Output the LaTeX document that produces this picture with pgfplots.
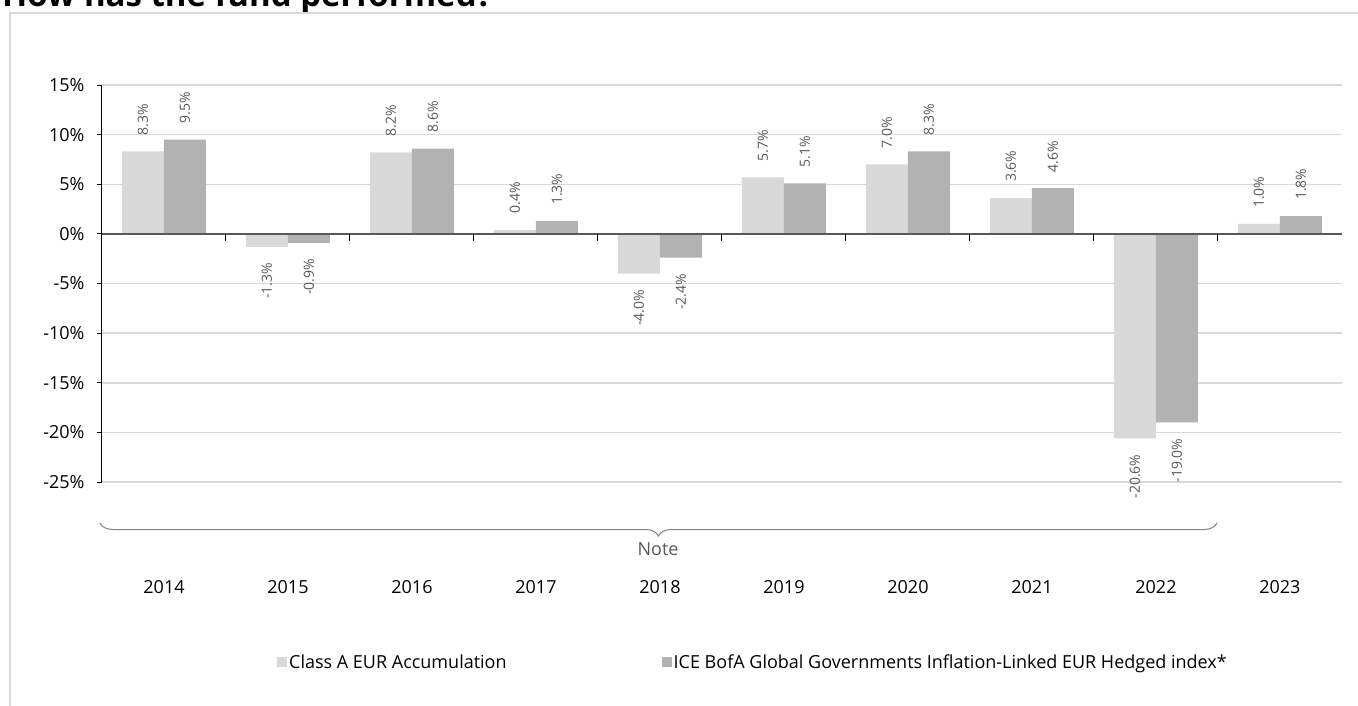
\documentclass[border=0pt]{standalone}
\usepackage{pgfplots}
\pgfplotsset{compat=1.18}
\usepackage{pgfplotstable}
\usepackage{fontspec}
\setmainfont{Open Sans}
\usetikzlibrary{decorations.pathreplacing}
\definecolor{lightbar}{HTML}{D9D9D9}
\definecolor{darkbar}{HTML}{B2B2B2}
\definecolor{gridgray}{HTML}{D9D9D9}
\definecolor{labelgray}{HTML}{595959}
\definecolor{framegray}{HTML}{D9D9D9}
\definecolor{zerogray}{HTML}{595959}
\definecolor{bracegray}{HTML}{808080}

\pgfplotstableread{
x  a     b
0  8.3   9.5
1  -1.3  -0.9
2  8.2   8.6
3  0.4   1.3
4  -4.0  -2.4
5  5.7   5.1
6  7.0   8.3
7  3.6   4.6
8  -20.6 -19.0
9  1.0   1.8
}\perf

\newcommand{\fs}[1]{\fontsize{#1}{#1}\selectfont}

\begin{document}
\begin{tikzpicture}[x=1pt,y=1pt]
\useasboundingbox (0,0) rectangle (1358,705);
\clip (0,0) rectangle (1358,705);
\fill[white] (0,0) rectangle (1358,705);
\node[anchor=base west, inner sep=0pt, font=\bfseries\fs{33}] at (2,698.5) {How has the fund performed?};
\draw[framegray, line width=2pt] (1380,692) -- (10,692) -- (10,-20);
\begin{axis}[
  at={(102pt,223pt)}, anchor=south west,
  scale only axis, width=1240pt, height=397pt,
  xmin=-0.5, xmax=9.5, ymin=-25, ymax=15,
  ybar=0pt, bar width=42pt,
  axis x line*=bottom, axis y line*=left,
  x axis line style={draw=none},
  y axis line style={black, line width=1pt},
  xtick={0,...,9},
  xticklabels={2014,2015,2016,2017,2018,2019,2020,2021,2022,2023},
  xtick style={draw=none},
  xticklabel style={anchor=center, yshift=-100pt, font=\fs{18}},
  ytick={-25,-20,...,15},
  yticklabels={-25\%,-20\%,-15\%,-10\%,-5\%,0\%,5\%,10\%,15\%},
  yticklabel style={font=\fs{18}, xshift=-9pt},
  ytick style={black, line width=1pt},
  tick align=outside, major tick length=5pt,
  ymajorgrids, grid style={gridgray, line width=1.5pt},
  point meta=explicit symbolic,
  nodes near coords={\pgfplotspointmeta\%},
  every node near coord/.append style={font=\fs{14}, text=labelgray, rotate=90, inner xsep=16pt, inner ysep=1pt},
  legend style={at={(axis description cs:0.1411,-0.4534)}, anchor=west, draw=none, fill=none, font=\fs{18}, inner sep=0pt, /tikz/every even column/.append style={column sep=153pt}},
  legend columns=2,
  legend cell align=left,
]
\addplot[fill=lightbar, draw=none, bar shift=-21pt, restrict y to domain=0:100, nodes near coords style={anchor=west},
  legend image code/.code={\fill[lightbar] (0pt,-5pt) rectangle (10pt,5pt);}] table[x=x,y=a,meta=a]{\perf};
\addlegendentry{Class A EUR Accumulation}
\addplot[fill=lightbar, draw=none, bar shift=-21pt, restrict y to domain=-100:0, nodes near coords style={anchor=east}, forget plot] table[x=x,y=a,meta=a]{\perf};
\addplot[fill=darkbar, draw=none, bar shift=21pt, restrict y to domain=0:100, nodes near coords style={anchor=west},
  legend image code/.code={\fill[darkbar] (0pt,-5pt) rectangle (10pt,5pt);}] table[x=x,y=b,meta=b]{\perf};
\addlegendentry{ICE BofA Global Governments Inflation-Linked EUR Hedged index*}
\addplot[fill=darkbar, draw=none, bar shift=21pt, restrict y to domain=-100:0, nodes near coords style={anchor=east}, forget plot] table[x=x,y=b,meta=b]{\perf};
\draw[zerogray, line width=1.5pt] (axis cs:-0.5,0) -- (axis cs:9.5,0);
\pgfplotsinvokeforeach{0.5,1.5,2.5,3.5,4.5,5.5,6.5,7.5,8.5}{\draw[black, line width=1pt] (axis cs:#1,0) -- ++(0pt,-7pt);}
\end{axis}
\draw[bracegray, line width=1pt, decorate, decoration={brace, amplitude=13pt, mirror}] (100,182) -- (1217,182);
\node[text=labelgray, font=\fs{18}, inner sep=0pt] at (658,156) {Note};
\end{tikzpicture}
\end{document}
